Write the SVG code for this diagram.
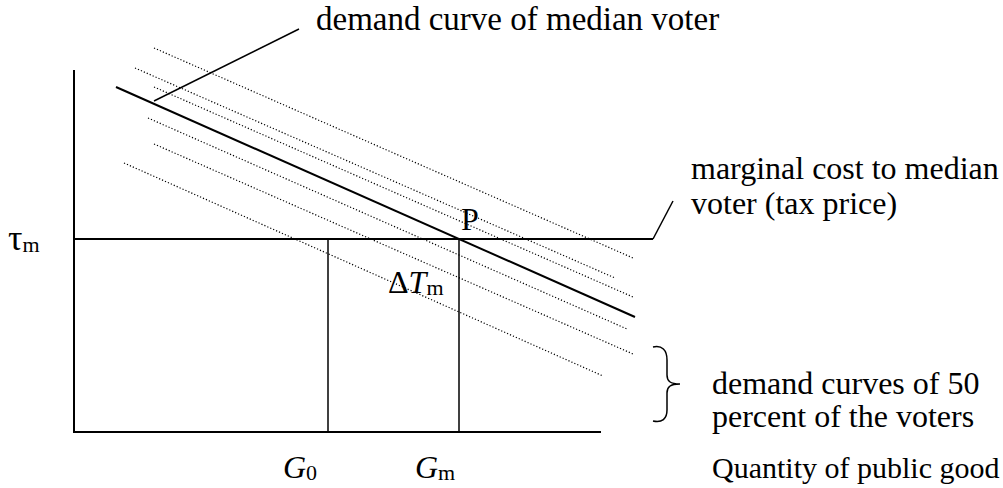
<svg xmlns="http://www.w3.org/2000/svg" width="1003" height="488" viewBox="0 0 1003 488">
<style>
.t{font-family:"Liberation Serif","Times New Roman",serif;font-size:32px;fill:#000}
.i{font-style:italic}
.s{font-size:22px;font-style:normal}
.solid{stroke:#000;fill:none}
.dot{stroke:#000;stroke-width:1.2;stroke-dasharray:1.2 2;fill:none}
</style>
<rect width="1003" height="488" fill="#fff"/>
<g id="axes">
<line class="solid" x1="74" y1="70" x2="74" y2="432" stroke-width="2"/>
<line class="solid" x1="73" y1="432" x2="601" y2="432" stroke-width="2"/>
</g>
<g id="connectors">
<line class="solid" x1="74" y1="239" x2="653" y2="239" stroke-width="2"/>
<line class="solid" x1="653" y1="239" x2="673" y2="201" stroke-width="1.5"/>
<line class="solid" x1="328" y1="239" x2="328" y2="432" stroke-width="1.5"/>
<line class="solid" x1="459" y1="239" x2="459" y2="432" stroke-width="1.5"/>
<line class="solid" x1="116" y1="87" x2="635" y2="317" stroke-width="2"/>
<line class="solid" x1="154" y1="101" x2="299" y2="29" stroke-width="1.5"/>
<line class="dot" x1="154" y1="48" x2="633" y2="258"/>
<line class="dot" x1="135" y1="68" x2="615" y2="278"/>
<line class="dot" x1="154" y1="87" x2="633" y2="297"/>
<line class="dot" x1="148" y1="118" x2="627" y2="329"/>
<line class="dot" x1="154" y1="144" x2="633" y2="354"/>
<line class="dot" x1="124" y1="163" x2="603" y2="376"/>
<path class="solid" stroke-width="1.5" d="M653,347 C662,345 667,350 667,360 L667,375 C667,381 670,384 680,384 C670,384 667,387 667,393 L667,410 C667,419 662,423 653,421"/>
</g>
<g id="labels">
<text class="t" x="316" y="30" style="font-size:33px">demand curve of median voter</text>
<text class="t" x="8" y="250" style="font-size:36px">τ<tspan class="s" dy="2">m</tspan></text>
<text class="t" x="461" y="230">P</text>
<text class="t" x="388" y="293">Δ<tspan class="i">T</tspan><tspan class="s" dy="2">m</tspan></text>
<text class="t" x="691" y="179">marginal cost to median</text>
<text class="t" x="691" y="214">voter (tax price)</text>
<text class="t" x="712" y="394">demand curves of 50</text>
<text class="t" x="712" y="427">percent of the voters</text>
<text class="t i" x="283" y="478">G<tspan class="s" dy="2">0</tspan></text>
<text class="t i" x="415" y="478">G<tspan class="s" dy="2">m</tspan></text>
<text class="t" x="712" y="478" style="font-size:30px">Quantity of public good</text>
</g>
</svg>
